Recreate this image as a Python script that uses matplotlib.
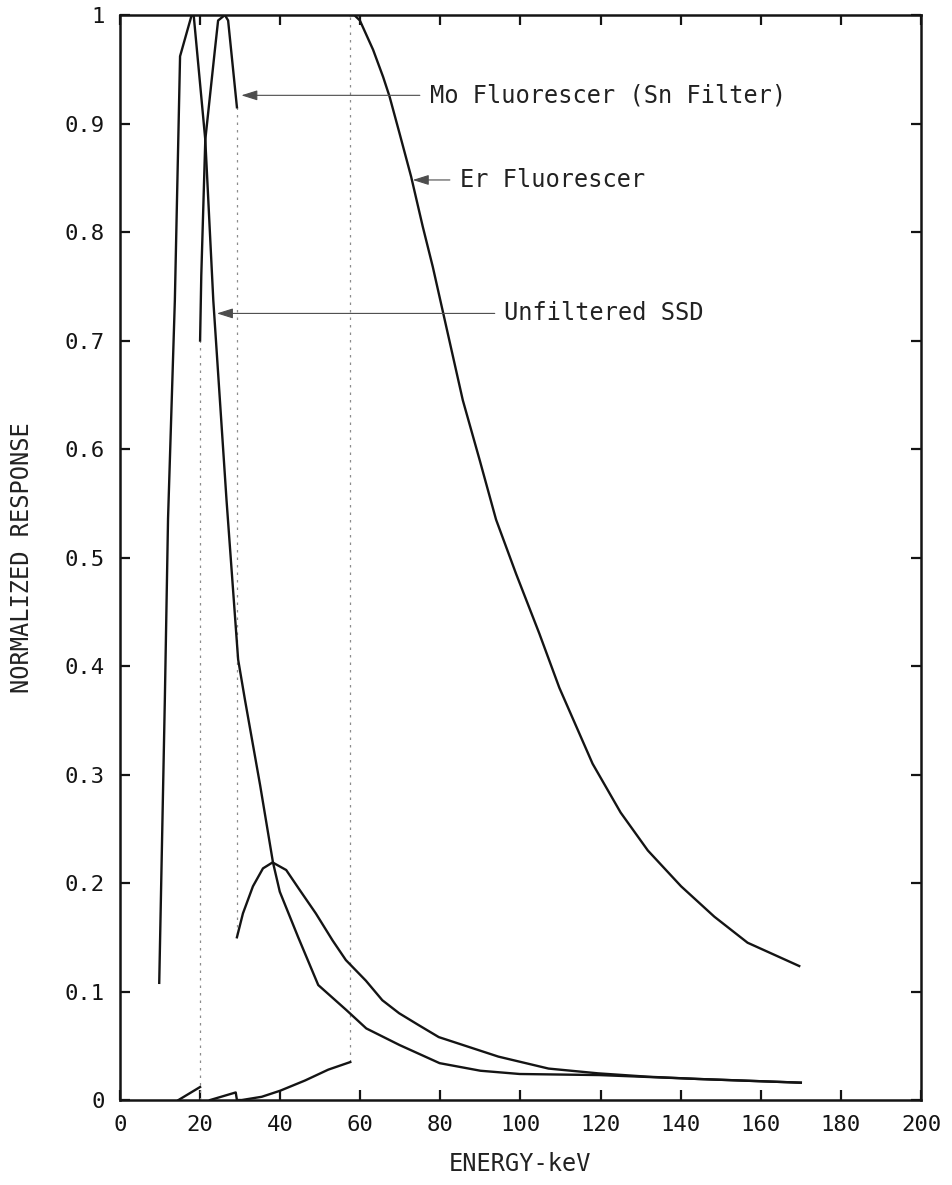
#!/usr/bin/python3

import matplotlib
matplotlib.use("Agg")
import matplotlib.pyplot as plt
from matplotlib.patches import ArrowStyle

# unfiltered SSD
ssd_kev = [9.8, 11.2, 12.0, 13.7, 15.0, 17.9, 18.4, 21.3, 23.3, 26.6, 29.5,
           31.2, 35.0, 38.2, 39.9, 44.5, 49.5, 56.5, 61.5, 69.8, 79.8, 90.0,
           99.8, 119.7, 144.6, 170.0]
ssd_resp = [0.108, 0.369, 0.536, 0.737, 0.962, 1.0, 1.0, 0.885, 0.737, 0.553,
            0.406, 0.369, 0.29, 0.219, 0.192, 0.15, 0.106, 0.083, 0.066,
            0.0507, 0.034, 0.027, 0.024, 0.023, 0.0194, 0.016]

# Mo fluorescer (Sn filter), split at the Mo and Sn K edges
mo_low_kev = [14.6, 20.0]
mo_low_resp = [0.0, 0.012]
mo_mid_kev = [20.0, 20.3, 21.3, 23.7, 24.5, 26.2, 27.0, 29.2]
mo_mid_resp = [0.70, 0.76, 0.885, 0.968, 0.995, 1.0, 0.995, 0.915]
mo_high_kev = [29.2, 30.7, 33.2, 35.7, 38.1, 41.5, 44.8, 48.9, 53.1, 56.4,
               61.4, 65.5, 69.7, 74.6, 79.6, 94.5, 107.0, 119.4, 131.8,
               144.3, 170.0]
mo_high_resp = [0.15, 0.172, 0.197, 0.2135, 0.219, 0.212, 0.194, 0.172,
                0.147, 0.129, 0.11, 0.092, 0.08, 0.069, 0.058, 0.040, 0.029,
                0.0246, 0.0215, 0.0194, 0.016]

# Er fluorescer, split at the Er K edge
er_low_kev = [22.5, 28.9, 29.2, 30.4, 35.4, 40.0, 46.2, 52.0, 57.5]
er_low_resp = [0.0, 0.007, 0.0, 0.0, 0.003, 0.0086, 0.018, 0.028, 0.035]
er_high_kev = [57.5, 58.5, 59.9, 63.2, 65.7, 67.3, 69.8, 72.7, 75.6, 78.1,
               80.6, 85.6, 89.8, 93.9, 98.9, 104.7, 109.7, 118.0, 125.0,
               131.8, 140.1, 148.4, 156.7, 169.6]
er_high_resp = [1.0, 1.0, 0.995, 0.968, 0.943, 0.925, 0.891, 0.851, 0.805,
                0.768, 0.727, 0.645, 0.59, 0.535, 0.485, 0.43, 0.38, 0.31,
                0.265, 0.230, 0.197, 0.169, 0.145, 0.1235]

x_ticks = [0, 20, 40, 60, 80, 100, 120, 140, 160, 180, 200]
y_ticks = [0, 0.1, 0.2, 0.3, 0.4, 0.5, 0.6, 0.7, 0.8, 0.9, 1.0]
y_labels = ["0", "0.1", "0.2", "0.3", "0.4", "0.5", "0.6", "0.7", "0.8",
            "0.9", "1"]

# label text, arrow tip (keV, response), text start (keV, response)
notes = [
    ("Mo Fluorescer (Sn Filter)", (30.3, 0.926), (77.3, 0.926)),
    ("Er Fluorescer", (73.1, 0.848), (84.8, 0.848)),
    ("Unfiltered SSD", (24.2, 0.725), (96.0, 0.725)),
]

INK = "#141414"
FONT = "DejaVu Sans Mono"


def edge(ax, x_a, y_a, x_b, y_b):
    '''faint dotted jump between two curve pieces'''
    ax.plot([x_a, x_b], [y_a, y_b], color="0.55", lw=0.9,
            linestyle=(0, (2, 4)), zorder=2)


def main():
    plt.rcParams["font.family"] = FONT
    fig = plt.figure(figsize=(9.53, 11.85), dpi=100)
    ax = fig.add_axes([0.1259, 0.0717, 0.8405, 0.9156])

    line = dict(color=INK, lw=1.7, solid_joinstyle="round", zorder=3)
    ax.plot(ssd_kev, ssd_resp, **line)
    ax.plot(mo_low_kev, mo_low_resp, **line)
    ax.plot(mo_mid_kev, mo_mid_resp, **line)
    ax.plot(mo_high_kev, mo_high_resp, **line)
    ax.plot(er_low_kev, er_low_resp, **line)
    ax.plot(er_high_kev, er_high_resp, **line)

    # K-edge jumps, drawn faint as in the original
    edge(ax, mo_low_kev[-1], 0.0, mo_mid_kev[0], mo_mid_resp[0])
    edge(ax, mo_mid_kev[-1], mo_mid_resp[-1],
         mo_high_kev[0], mo_high_resp[0])
    edge(ax, er_low_kev[-1], er_low_resp[-1],
         er_high_kev[0], er_high_resp[0])

    head = ArrowStyle("-|>", head_length=0.7, head_width=0.22)
    for text, tip, start in notes:
        ax.annotate(text, xy=tip, xytext=start, fontsize=17, color="#222",
                    ha="left", va="center",
                    arrowprops=dict(arrowstyle=head, color="0.3", lw=0.8,
                                    mutation_scale=14, shrinkA=5,
                                    shrinkB=0))

    ax.set_xlim(0, 200)
    ax.set_ylim(0, 1)
    ax.set_xticks(x_ticks)
    ax.set_yticks(y_ticks)
    ax.set_yticklabels(y_labels)
    ax.tick_params(direction="in", length=7, width=1.6, top=True,
                   right=True, labelsize=16, pad=11, colors=INK)
    for side in ax.spines.values():
        side.set_linewidth(1.8)
        side.set_color(INK)

    ax.set_xlabel("ENERGY-keV", fontsize=17, labelpad=12, color="#222")
    ax.set_ylabel("NORMALIZED RESPONSE", fontsize=17, labelpad=22,
                  color="#222")

    fig.savefig("out.png", dpi=100, facecolor="white")


if __name__ == "__main__":
    main()
